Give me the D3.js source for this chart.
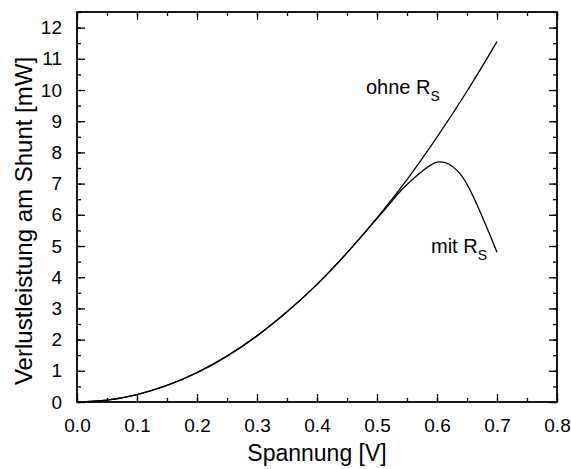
<!DOCTYPE html>
<html>
<head>
<meta charset="utf-8">
<script src="https://cdn.jsdelivr.net/npm/d3@7"></script>
<style>
  body { margin: 0; background: #fff; }
  svg { display: block; }
  text { font-family: "Liberation Sans", Arial, sans-serif; fill: #000; }
</style>
</head>
<body>
<script>
// Dissipated power at the shunt vs. voltage, with and without series resistance
const voltsOhne = [0, 0.05, 0.1, 0.15, 0.2, 0.25, 0.3, 0.35, 0.4, 0.45, 0.5, 0.55, 0.6, 0.65, 0.7];
const powerOhne = [0, 0.06, 0.24, 0.53, 0.94, 1.47, 2.12, 2.89, 3.77, 4.78, 5.90, 7.13, 8.49, 9.96, 11.55];

const voltsMit = [0, 0.05, 0.1, 0.15, 0.2, 0.25, 0.3, 0.35, 0.4, 0.45, 0.5, 0.52, 0.54, 0.56, 0.58, 0.59, 0.6, 0.61, 0.62, 0.63, 0.64, 0.65, 0.66, 0.67, 0.68, 0.69, 0.7];
const powerMit = [0, 0.06, 0.24, 0.53, 0.94, 1.47, 2.12, 2.89, 3.77, 4.78, 5.88, 6.33, 6.78, 7.15, 7.47, 7.60, 7.69, 7.69, 7.62, 7.48, 7.28, 6.98, 6.60, 6.18, 5.73, 5.27, 4.80];

const xTicks = [0, 0.1, 0.2, 0.3, 0.4, 0.5, 0.6, 0.7, 0.8];
const yTicks = [0, 1, 2, 3, 4, 5, 6, 7, 8, 9, 10, 11, 12];

const W = 571, H = 469;
const m = { left: 77, right: 14, top: 12, bottom: 67 };
const iw = W - m.left - m.right, ih = H - m.top - m.bottom;

const svg = d3.select("body").append("svg").attr("width", W).attr("height", H);
const g = svg.append("g").attr("transform", `translate(${m.left},${m.top})`);

const x = d3.scaleLinear().domain([0, 0.8]).range([0, iw]);
const y = d3.scaleLinear().domain([0, 12.5]).range([ih, 0]);

const xMinor = d3.range(0, 0.8001, 0.05).map(v => +v.toFixed(2));
const yMinor = d3.range(0, 12.501, 0.5).map(v => +v.toFixed(1));

function styleAxis(sel) {
  sel.select(".domain").remove();
  sel.selectAll(".tick line").attr("stroke", "#000").attr("stroke-width", 1.3);
}

// minor ticks on all four sides (inward)
g.append("g").attr("transform", `translate(0,${ih})`)
  .call(d3.axisBottom(x).tickValues(xMinor).tickSize(-4).tickFormat("")).call(styleAxis);
g.append("g")
  .call(d3.axisTop(x).tickValues(xMinor).tickSize(-4).tickFormat("")).call(styleAxis);
g.append("g")
  .call(d3.axisLeft(y).tickValues(yMinor).tickSize(-4).tickFormat("")).call(styleAxis);
g.append("g").attr("transform", `translate(${iw},0)`)
  .call(d3.axisRight(y).tickValues(yMinor).tickSize(-4).tickFormat("")).call(styleAxis);

// major ticks with labels
const xb = g.append("g").attr("transform", `translate(0,${ih})`)
  .call(d3.axisBottom(x).tickValues(xTicks).tickSize(-8).tickPadding(17).tickFormat(d3.format(".1f")));
xb.call(styleAxis);
xb.selectAll("text").attr("font-size", 19).attr("font-family", "Liberation Sans, Arial, sans-serif").attr("dy", "0.71em");

g.append("g").call(d3.axisTop(x).tickValues(xTicks).tickSize(-8).tickFormat("")).call(styleAxis);

const yl = g.append("g")
  .call(d3.axisLeft(y).tickValues(yTicks).tickSize(-8).tickPadding(15).tickFormat(d3.format("d")));
yl.call(styleAxis);
yl.selectAll("text").attr("font-size", 19).attr("font-family", "Liberation Sans, Arial, sans-serif");

g.append("g").attr("transform", `translate(${iw},0)`)
  .call(d3.axisRight(y).tickValues(yTicks).tickSize(-8).tickFormat("")).call(styleAxis);

// frame
g.append("rect").attr("x", 0).attr("y", 0).attr("width", iw).attr("height", ih)
  .attr("fill", "none").attr("stroke", "#000").attr("stroke-width", 1.8);

// curves
const line = d3.line().x(d => x(d[0])).y(d => y(d[1])).curve(d3.curveCatmullRom.alpha(0.5));
g.append("path").datum(d3.zip(voltsOhne, powerOhne))
  .attr("d", line).attr("fill", "none").attr("stroke", "#000").attr("stroke-width", 1.3);
g.append("path").datum(d3.zip(voltsMit, powerMit))
  .attr("d", line).attr("fill", "none").attr("stroke", "#000").attr("stroke-width", 1.3);

// curve labels
function rsLabel(px, py, word) {
  const t = svg.append("text").attr("x", px).attr("y", py).attr("font-size", 20);
  t.append("tspan").text(word + " R");
  t.append("tspan").attr("font-size", 14).attr("dy", 7).text("S");
}
rsLabel(366, 94, "ohne");
rsLabel(431, 253, "mit");

// axis titles
svg.append("text").attr("x", m.left + iw / 2).attr("y", 461)
  .attr("text-anchor", "middle").attr("font-size", 23).text("Spannung [V]");
svg.append("text").attr("transform", "translate(32,221) rotate(-90)")
  .attr("text-anchor", "middle").attr("font-size", 24).text("Verlustleistung am Shunt [mW]");
</script>
</body>
</html>
